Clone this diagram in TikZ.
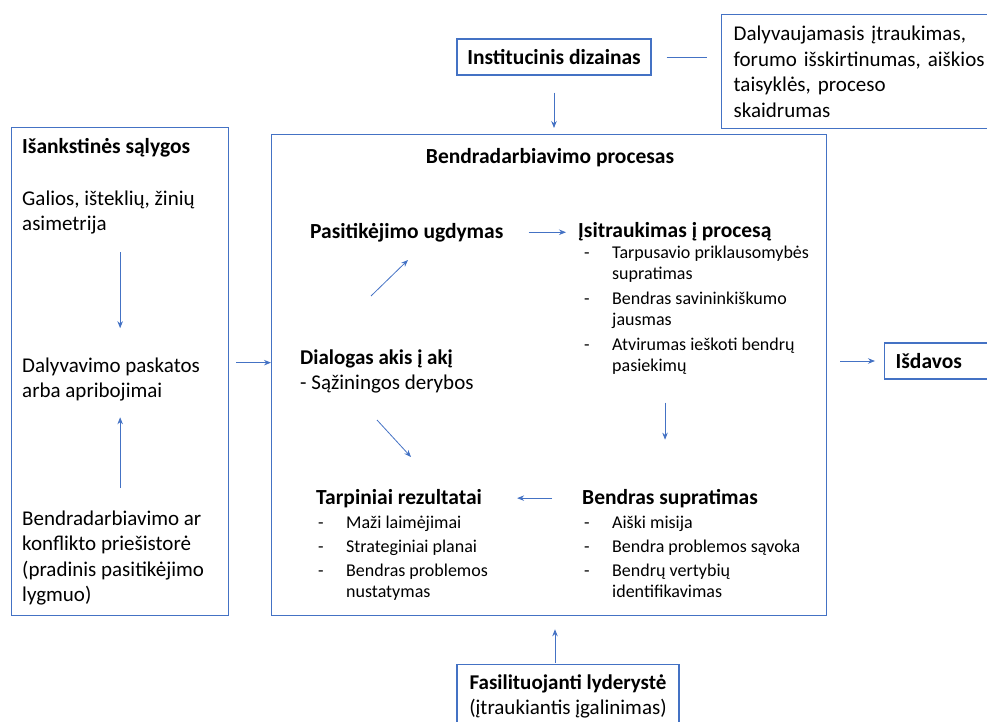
\documentclass[tikz,border=0pt]{standalone}
\usepackage{fontspec}
\setmainfont{Carlito}
\usetikzlibrary{arrows.meta}
\definecolor{officeblue}{HTML}{4472C4}
\newcommand{\dashitem}{\makebox[30pt][l]{\hspace*{2pt}-}}
\newcommand{\dashcont}{\hspace*{30pt}}

\begin{document}
\begin{tikzpicture}[x=1pt,y=-1pt,
        frame/.style={draw=officeblue,line width=1.3pt,inner sep=0pt},
        txt/.style={inner sep=0pt,align=left,font=\fontsize{21}{25.5}\selectfont},
        head/.style={txt,font=\fontsize{21.5}{25.5}\selectfont\bfseries},
        lst/.style={inner sep=0pt,align=left,font=\fontsize{18}{21.5}\selectfont},
        flow/.style={draw=officeblue,line width=0.8pt,-{Stealth[length=7pt,width=5.5pt]}},
  ]
    \clip (0,0) rectangle (987,722);

    % frames
    \node[frame,anchor=north west,minimum width=217pt,minimum height=488pt] (pre) at (11,127) {};
    \node[frame,anchor=north west,minimum width=555pt,minimum height=481pt] (proc) at (271,134) {};
    \node[frame,head,minimum width=194pt,minimum height=36pt] (inst) at (554,57) {Institucinis dizainas};
    \node[frame,txt,anchor=north west,inner xsep=12pt,text width=280pt,minimum height=114pt] (rules) at (721,14)
        {Dalyvaujamasis įtraukimas,\\forumo išskirtinumas, aiškios\\taisyklės, proceso\\skaidrumas};
    \node[frame,head,anchor=west,inner xsep=11pt,text width=100pt,minimum height=36pt] (isdavos) at (884,361) {Išdavos};
    \node[frame,txt,align=center,anchor=north,minimum width=222pt,inner ysep=10pt] (fac) at (568,664)
        {\textbf{Fasilituojanti lyderystė}\\(įtraukiantis įgalinimas)};

    % left column (base = last line)
    \node[head,anchor=base west] (prehead) at (22,154) {Išankstinės sąlygos};
    \node[txt,anchor=base west] (galios) at (22,230.5) {Galios, išteklių, žinių\\asimetrija};
    \node[txt,anchor=base west] (dalyv) at (22,397.5) {Dalyvavimo paskatos\\arba apribojimai};
    \node[txt,anchor=base west] (history) at (22,601.5)
        {Bendradarbiavimo ar\\konflikto priešistorė\\(pradinis pasitikėjimo\\lygmuo)};

    % process
    \node[head,anchor=base] (title) at (550,164) {Bendradarbiavimo procesas};
    \node[head,anchor=base west] (trust) at (310,238) {Pasitikėjimo ugdymas};
    \node[head,anchor=base west] (engage) at (578,237) {Įsitraukimas į procesą};
    \node[lst,anchor=base west] (engagelist) at (582,371.5)
        {\dashitem Tarpusavio priklausomybės\\
         \dashcont supratimas\\[3pt]
         \dashitem Bendras savininkiškumo\\
         \dashcont jausmas\\[3pt]
         \dashitem Atvirumas ieškoti bendrų\\
         \dashcont pasiekimų};
    \node[txt,anchor=base west] (dialog) at (300,389.5) {\textbf{Dialogas akis į akį}\\- Sąžiningos derybos};
    \node[head,anchor=base west] (interim) at (316,504) {Tarpiniai rezultatai};
    \node[lst,anchor=base west] (interimlist) at (316,597.5)
        {\dashitem Maži laimėjimai\\[2.5pt]
         \dashitem Strateginiai planai\\[2.5pt]
         \dashitem Bendras problemos\\
         \dashcont nustatymas};
    \node[head,anchor=base west] (shared) at (582,504) {Bendras supratimas};
    \node[lst,anchor=base west] (sharedlist) at (582,597.5)
        {\dashitem Aiški misija\\[2.5pt]
         \dashitem Bendra problemos sąvoka\\[2.5pt]
         \dashitem Bendrų vertybių\\
         \dashcont identifikavimas};

    \coordinate (up1) at (371,296);
    \coordinate (up2) at (408,260);
    \coordinate (dn1) at (377,420);
    \coordinate (dn2) at (411,457);

    % connectors
    \draw[flow,shorten <=18pt,shorten >=29pt] (galios.south -| pre.center) -- (dalyv.north -| pre.center);
    \draw[flow,shorten <=22pt,shorten >=16pt] (history.north -| pre.center) -- (dalyv.south -| pre.center);
    \draw[flow,shorten <=7pt] ([yshift=9pt]pre.east) -- ([yshift=9pt]pre.east -| proc.west);
    \draw[flow,shorten <=13pt,shorten >=9pt] (proc.east |- isdavos.west) -- (isdavos.west);
    \draw[flow,shorten <=17pt,shorten >=6pt] (inst.south) -- (inst.south |- proc.north);
    \draw[officeblue,line width=0.8pt,shorten <=15pt,shorten >=14pt] (inst.east) -- (inst.east -| rules.west);
    \draw[flow,shorten <=1pt,shorten >=13pt] ([xshift=-13pt]fac.north) -- ([xshift=-13pt]fac.north |- proc.south);
    \draw[flow] (up1) -- (up2);
    \draw[flow] (dn1) -- (dn2);
    \draw[flow,shorten <=25pt,shorten >=12pt] (trust.east) -- (trust.east -| engage.west);
    \draw[flow,shorten <=28pt,shorten >=49pt] ([xshift=-5pt]shared.north |- engagelist.south) -- ([xshift=-5pt]shared.north);
    \draw[flow,shorten <=30pt,shorten >=35pt] (shared.west) -- (shared.west -| interim.east);
\end{tikzpicture}
\end{document}
